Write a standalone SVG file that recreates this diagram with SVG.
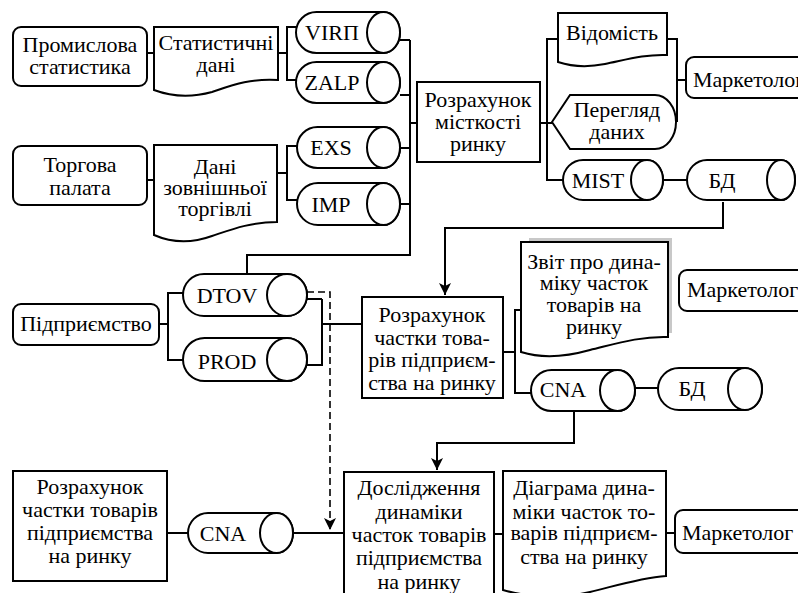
<svg xmlns="http://www.w3.org/2000/svg" width="798" height="593" viewBox="0 0 798 593">
<style>
.s{fill:#fff;stroke:#000;stroke-width:2}
.c{fill:none;stroke:#000;stroke-width:2}
.d{fill:none;stroke:#000;stroke-width:1.6;stroke-dasharray:7 4}
.t{font-family:'Liberation Serif','Times New Roman',serif;font-size:22px;fill:#000;stroke:none}
.m{text-anchor:middle}
</style>
<defs>
<marker id="ar" markerWidth="14" markerHeight="14" refX="12" refY="6" orient="auto" markerUnits="userSpaceOnUse">
<path d="M0,0 L12,6 L0,12 L3,6 Z" fill="#000"/>
</marker>
</defs>
<rect width="798" height="593" fill="#fff"/>

<g id="connectors">
<path class="c" d="M147,53 H154"/>
<path class="c" d="M278,53 H287 M296,27 H287 V80 H296"/>
<path class="c" d="M400,40 H410 M400,95 H410 M400,148 H410 M400,204 H410 M410,40 V255 H247 V274"/>
<path class="c" d="M410,123 H417"/>
<path class="c" d="M147,180 H154"/>
<path class="c" d="M277,173 H287 M297,146 H287 V200 H297"/>
<path class="c" d="M540,123 H552 M558,39 H547 V180 H563"/>
<path class="c" d="M667,39 H677 V122 M677,80 H686"/>
<path class="c" d="M663,180 H687"/>
<path class="c" d="M723,202 V228 H445 V295" marker-end="url(#ar)"/>
<path class="c" d="M159,324 H168 M183,293 H168 V360 H183"/>
<path class="c" d="M307,299 H322 M307,365 H322 V299 M322,324 H362"/>
<path class="d" d="M307,292 H330 V530" marker-end="url(#ar)"/>
<path class="c" d="M503,352 H515 M522,310 H515 V393 H531"/>
<path class="c" d="M635,388 H658"/>
<path class="c" d="M574,411 V443 H437 V470" marker-end="url(#ar)"/>
<path class="c" d="M167,533 H188 M293,533 H344"/>
<path class="c" d="M494,534 H503 M666,533 H675"/>
</g>

<g id="prom-stat"><rect class="s" x="13" y="27" width="134" height="59" rx="8"/>
<text class="t m" x="80" y="52">Промислова</text><text class="t m" x="80" y="74">статистика</text></g>

<g id="stat-dani"><path class="s" d="M154,27 H278 V80 C250,78 230,86 212,92 C190,98 170,96 154,90 Z"/>
<text class="t m" x="216" y="50">Статистичні</text><text class="t m" x="216" y="72">дані</text></g>

<g id="virp"><path class="s" d="M316.5,12 H383.5 A16.5 20.5 0 0 1 383.5,53 H316.5 A20.5 20.5 0 0 1 316.5,12 Z"/><ellipse class="s" cx="383.5" cy="32.5" rx="16.5" ry="20.5"/>
<text class="t m" x="332" y="40">VIRП</text></g>

<g id="zalp"><path class="s" d="M316.5,62 H383.5 A16.5 20.5 0 0 1 383.5,103 H316.5 A20.5 20.5 0 0 1 316.5,62 Z"/><ellipse class="s" cx="383.5" cy="82.5" rx="16.5" ry="20.5"/>
<text class="t m" x="332" y="90">ZALP</text></g>

<g id="torg-palata"><rect class="s" x="13" y="146" width="134" height="59" rx="8"/>
<text class="t m" x="80" y="172">Торгова</text><text class="t m" x="80" y="195">палата</text></g>

<g id="dani-zovn"><path class="s" d="M154,145 H277 V222 C250,222 230,230 212,236 C190,244 170,242 154,235 Z"/>
<text class="t m" x="215" y="174">Дані</text><text class="t m" x="215" y="195">зовнішньої</text><text class="t m" x="215" y="216">торгівлі</text></g>

<g id="exs"><path class="s" d="M317.5,127 H383.5 A16.5 20.5 0 0 1 383.5,168 H317.5 A20.5 20.5 0 0 1 317.5,127 Z"/><ellipse class="s" cx="383.5" cy="147.5" rx="16.5" ry="20.5"/>
<text class="t m" x="331" y="155">EXS</text></g>

<g id="imp"><path class="s" d="M318,183 H383.5 A16.5 21 0 0 1 383.5,225 H318 A21 21 0 0 1 318,183 Z"/><ellipse class="s" cx="383.5" cy="204" rx="16.5" ry="21"/>
<text class="t m" x="331" y="212">IMP</text></g>

<g id="rozr-mist"><rect class="s" x="417" y="82" width="123" height="80"/>
<text class="t m" x="478" y="107">Розрахунок</text><text class="t m" x="478" y="129">місткості</text><text class="t m" x="478" y="151">ринку</text></g>

<g id="vidomist"><path class="s" d="M558,13 H667 V55 C645,54 625,60 605,64 C585,68 570,66 558,62 Z"/>
<text class="t m" x="612" y="40">Відомість</text></g>

<g id="marketolog-1"><rect class="s" x="686" y="57" width="140" height="41" rx="8"/>
<text class="t" x="693" y="87">Маркетолог</text></g>

<g id="pereglyad"><path class="s" d="M552,122 L570,95 H655 A21 27 0 0 1 655,149 H570 Z"/>
<text class="t m" x="617" y="117">Перегляд</text><text class="t m" x="617" y="139">даних</text></g>

<g id="mist"><path class="s" d="M583,160 H647 A16 20 0 0 1 647,200 H583 A20 20 0 0 1 583,160 Z"/><ellipse class="s" cx="647" cy="180" rx="16" ry="20"/>
<text class="t m" x="598" y="188">MIST</text></g>

<g id="bd-1"><path class="s" d="M707,160 H781 A14 20 0 0 1 781,200 H707 A20 20 0 0 1 707,160 Z"/><ellipse class="s" cx="781" cy="180" rx="14" ry="20"/>
<text class="t m" x="722" y="188">БД</text></g>

<g id="pidpryemstvo"><rect class="s" x="13" y="304" width="146" height="41" rx="8"/>
<text class="t m" x="86" y="331">Підприємство</text></g>

<g id="dtov"><path class="s" d="M204,274 H287 A20 21 0 0 1 287,316 H204 A21 21 0 0 1 204,274 Z"/><ellipse class="s" cx="287" cy="295" rx="20" ry="21"/>
<text class="t m" x="227" y="303">DTOV</text></g>

<g id="prod"><path class="s" d="M204.5,338 H287 A20 21.5 0 0 1 287,381 H204.5 A21.5 21.5 0 0 1 204.5,338 Z"/><ellipse class="s" cx="287" cy="359.5" rx="20" ry="21.5"/>
<text class="t m" x="227" y="369">PROD</text></g>

<g id="rozr-chastky"><rect class="s" x="362" y="297" width="141" height="101"/>
<text class="t m" x="432" y="322">Розрахунок</text><text class="t m" x="432" y="345">частки това-</text><text class="t m" x="432" y="367">рів підприєм-</text><text class="t m" x="432" y="390">ства на ринку</text></g>

<g id="zvit"><path d="M529,238 H672 V333 L529,333 Z" fill="#b0b0b0" opacity="0.7"/>
<path class="s" d="M521,242 H668 V337 C640,336 615,344 590,350 C565,357 540,358 521,352 Z"/>
<text class="t m" x="594" y="269">Звіт про дина-</text><text class="t m" x="594" y="290">міку часток</text><text class="t m" x="594" y="312">товарів на</text><text class="t m" x="594" y="334">ринку</text></g>

<g id="marketolog-2"><rect class="s" x="679" y="270" width="140" height="41" rx="8"/>
<text class="t" x="687" y="297">Маркетолог</text></g>

<g id="cna-1"><path class="s" d="M551.5,370 H617.5 A17.5 20.5 0 0 1 617.5,411 H551.5 A20.5 20.5 0 0 1 551.5,370 Z"/><ellipse class="s" cx="617.5" cy="390.5" rx="17.5" ry="20.5"/>
<text class="t m" x="563" y="397">CNA</text></g>

<g id="bd-2"><path class="s" d="M679,368 H745 A17 21 0 0 1 745,410 H679 A21 21 0 0 1 679,368 Z"/><ellipse class="s" cx="745" cy="389" rx="17" ry="21"/>
<text class="t m" x="692" y="396">БД</text></g>

<g id="rozr-chastky-2"><rect class="s" x="13" y="471" width="154" height="110"/>
<text class="t m" x="90" y="494">Розрахунок</text><text class="t m" x="90" y="517">частки товарів</text><text class="t m" x="90" y="540">підприємства</text><text class="t m" x="90" y="563">на ринку</text></g>

<g id="cna-2"><path class="s" d="M208,513 H276.5 A16.5 20 0 0 1 276.5,553 H208 A20 20 0 0 1 208,513 Z"/><ellipse class="s" cx="276.5" cy="533" rx="16.5" ry="20"/>
<text class="t m" x="223" y="541">CNA</text></g>

<g id="doslidzhennya"><rect class="s" x="344" y="472" width="150" height="130"/>
<text class="t m" x="419" y="495">Дослідження</text><text class="t m" x="419" y="519">динаміки</text><text class="t m" x="419" y="542">часток товарів</text><text class="t m" x="419" y="565">підприємства</text><text class="t m" x="419" y="589">на ринку</text></g>

<g id="diagrama"><path class="s" d="M503,471 H666 V576 C640,578 615,586 590,592 C565,598 530,598 503,590 Z"/>
<text class="t m" x="584" y="495">Діаграма дина-</text><text class="t m" x="584" y="519">міки часток то-</text><text class="t m" x="584" y="540">варів підприєм-</text><text class="t m" x="584" y="564">ства на ринку</text></g>

<g id="marketolog-3"><rect class="s" x="675" y="510" width="140" height="43" rx="8"/>
<text class="t" x="682" y="540">Маркетолог</text></g>
</svg>
